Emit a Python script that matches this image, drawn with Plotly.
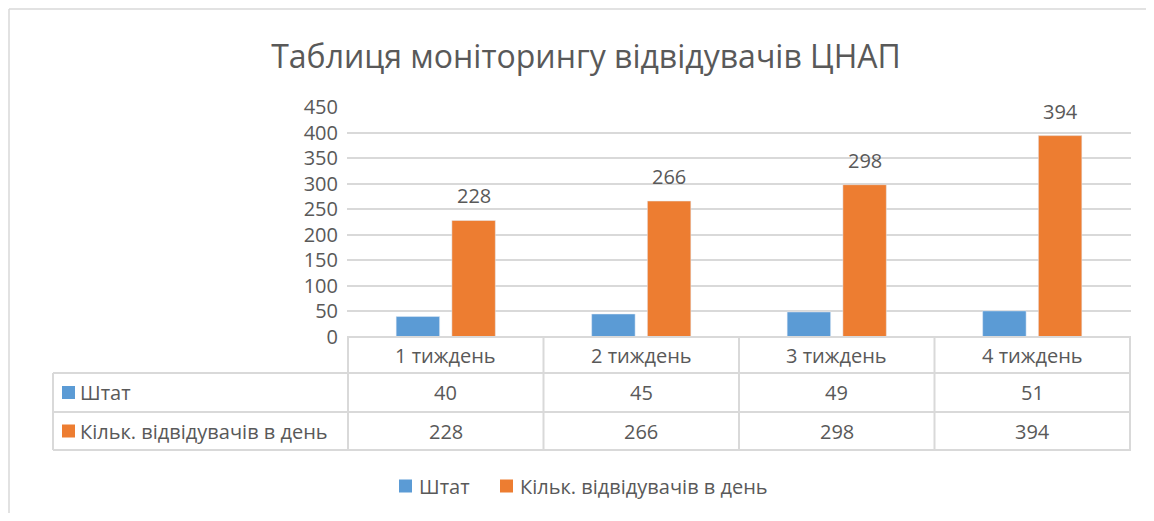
import plotly.graph_objects as go

categories = ["1 тиждень", "2 тиждень", "3 тиждень", "4 тиждень"]
shtat = [40, 45, 49, 51]
visitors = [228, 266, 298, 394]
series_names = ["Штат", "Кільк. відвідувачів в день"]
colors = ["#5B9BD5", "#ED7D31"]
title = "Таблиця моніторингу відвідувачів ЦНАП"
y_ticks = [0, 50, 100, 150, 200, 250, 300, 350, 400, 450]

# the page body adds an 8px margin on every side; size the figure so the page does not scroll
OFF = 8
W, H = 1154 - 2 * OFF, 521 - 2 * OFF
L, R, T, B = 347, 1131, 107, 337  # plot area in reference (window) pixel coords
pw, ph = R - L, B - T

def px(x):
    return (x - L) / pw

def py(y):
    return (B - y) / ph

FONT = "Open Sans"
GREY = "#595959"
LINE = "#D9D9D9"
FS = 20

fig = go.Figure()
fig.add_trace(go.Bar(x=categories, y=shtat, name=series_names[0], marker_color=colors[0], showlegend=False))
fig.add_trace(go.Bar(x=categories, y=visitors, name=series_names[1], marker_color=colors[1], showlegend=False))

shapes = []
annotations = []

# data labels for visitors
for i, (c, v) in enumerate(zip(categories, visitors)):
    annotations.append(dict(x=i + 0.142, y=v, xref="x", yref="y", text=str(v), showarrow=False,
                            yanchor="bottom", yshift=9, font=dict(family=FONT, size=FS, color=GREY)))

# data table
row_tops = [337, 373, 412, 450]
table_left = 53
col_edges = [-0.5, 0.5, 1.5, 2.5, 3.5]
shapes.append(dict(type="line", xref="paper", yref="paper", x0=0, x1=1, y0=py(row_tops[0]), y1=py(row_tops[0]),
                   line=dict(color=LINE, width=2)))
for yy in row_tops[1:]:
    shapes.append(dict(type="line", xref="paper", yref="paper", x0=px(table_left), x1=1, y0=py(yy), y1=py(yy),
                       line=dict(color=LINE, width=2)))
for ce in col_edges:
    shapes.append(dict(type="line", xref="x", yref="paper", x0=ce, x1=ce, y0=py(row_tops[0]), y1=py(row_tops[3]),
                       line=dict(color=LINE, width=2)))
shapes.append(dict(type="line", xref="paper", yref="paper", x0=px(table_left), x1=px(table_left),
                   y0=py(row_tops[1]), y1=py(row_tops[3]), line=dict(color=LINE, width=2)))

row_vals = [categories, [str(v) for v in shtat], [str(v) for v in visitors]]
for r in range(3):
    yc = py((row_tops[r] + row_tops[r + 1]) / 2)
    for i in range(4):
        annotations.append(dict(x=i, y=yc, xref="x", yref="paper", text=row_vals[r][i], showarrow=False,
                                yanchor="middle", xanchor="center", font=dict(family=FONT, size=FS, color=GREY)))

for r, (nm, col) in enumerate(zip(series_names, colors)):
    top, bot = row_tops[r + 1], row_tops[r + 2]
    yc = (top + bot) / 2
    shapes.append(dict(type="rect", xref="paper", yref="paper", x0=px(62), x1=px(75),
                       y0=py(yc - 6.5), y1=py(yc + 6.5), fillcolor=col, line=dict(width=0)))
    annotations.append(dict(x=px(78), y=py(yc), xref="paper", yref="paper", text=nm, showarrow=False,
                            xanchor="left", yanchor="middle", font=dict(family=FONT, size=FS, color=GREY)))

# legend (drawn manually to match compact spacing)
leg_y = 486
leg_x = [399, 500]
for (nm, col, lx) in zip(series_names, colors, leg_x):
    shapes.append(dict(type="rect", xref="paper", yref="paper", x0=px(lx), x1=px(lx + 13),
                       y0=py(leg_y - 6.5), y1=py(leg_y + 6.5), fillcolor=col, line=dict(width=0)))
    annotations.append(dict(x=px(lx + 18), y=py(leg_y), xref="paper", yref="paper", text=nm, showarrow=False,
                            xanchor="left", yanchor="middle", font=dict(family=FONT, size=FS, color=GREY)))

# chart border (top and left edges visible in the crop)
shapes.append(dict(type="line", xref="paper", yref="paper", x0=px(9), x1=px(1160), y0=py(9), y1=py(9),
                   line=dict(color=LINE, width=1.5), layer="below"))
shapes.append(dict(type="line", xref="paper", yref="paper", x0=px(9), x1=px(9), y0=py(9), y1=py(530),
                   line=dict(color=LINE, width=1.5), layer="below"))

fig.update_layout(
    width=W, height=H,
    margin=dict(l=L - OFF, r=(OFF + W) - R, t=T - OFF, b=(OFF + H) - B, pad=0, autoexpand=False),
    paper_bgcolor="white", plot_bgcolor="white",
    barmode="group", bargap=0.43, bargroupgap=0.22,
    title=dict(text=title, xref="paper", x=px(586), xanchor="center",
               yref="container", y=1 - (57 - OFF) / H, yanchor="middle",
               font=dict(family=FONT, size=32, color=GREY)),
    xaxis=dict(showticklabels=False, showgrid=False, zeroline=False, showline=False, ticks=""),
    yaxis=dict(range=[0, 450], tickvals=y_ticks, showgrid=True, gridcolor=LINE, gridwidth=1.5,
               zeroline=False, showline=False, ticks="", ticklabelstandoff=8,
               tickfont=dict(family=FONT, size=FS, color=GREY)),
    showlegend=False,
    shapes=shapes, annotations=annotations,
)

fig.write_html("out.html", config={"displayModeBar": False})
